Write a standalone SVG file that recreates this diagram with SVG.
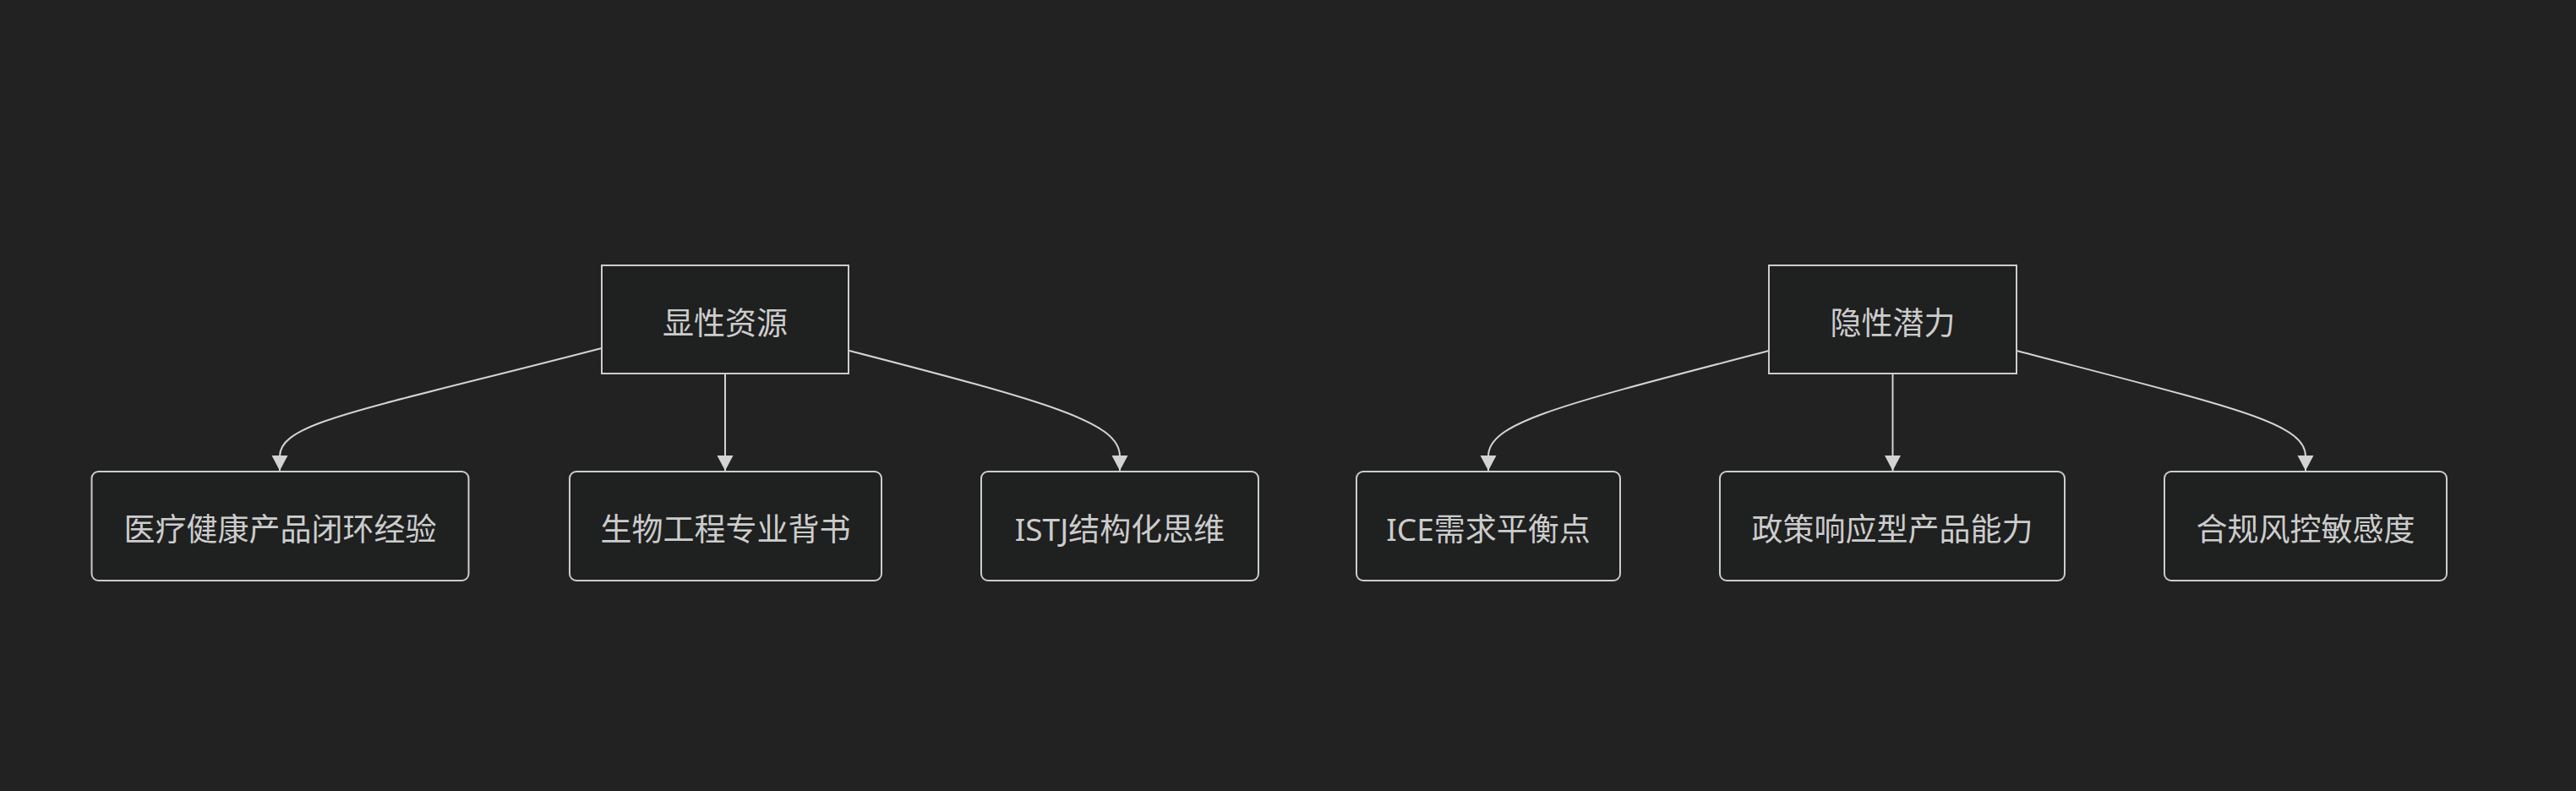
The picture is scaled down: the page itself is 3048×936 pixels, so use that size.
<svg xmlns="http://www.w3.org/2000/svg" width="3048" height="936" viewBox="0 0 3048 936">
<style>
.bg{fill:#222222}
.box{fill:#1f2020;stroke:#cccccc;stroke-width:2}
.lbl{fill:#cccccc;font-family:'Noto Sans','Noto Sans CJK SC',sans-serif;font-size:37px;text-anchor:middle}
.edge{fill:none;stroke:#d3d3d3;stroke-width:2}
</style>
<defs>
<marker id="arr" markerUnits="userSpaceOnUse" markerWidth="20" markerHeight="20" refX="18" refY="9.5" orient="auto">
<path d="M0,0 L18,9.5 L0,19 z" fill="#d3d3d3"/>
</marker>
</defs>
<rect class="bg" x="0" y="0" width="3048" height="936"/>
<g id="connectors">
<path class="edge" d="M712,412 C426,486 331,500 331,540 L331,557" marker-end="url(#arr)"/>
<path class="edge" d="M858,442 L858,557" marker-end="url(#arr)"/>
<path class="edge" d="M1005,415 C1245,477 1325,500 1325,540 L1325,557" marker-end="url(#arr)"/>
<path class="edge" d="M2093,415 C1844,480 1761,500 1761,540 L1761,557" marker-end="url(#arr)"/>
<path class="edge" d="M2239.5,442 L2239.5,557" marker-end="url(#arr)"/>
<path class="edge" d="M2386,415 C2642,482 2728,500 2728,540 L2728,557" marker-end="url(#arr)"/>
</g>
<g id="n_explicit">
<rect class="box" x="712" y="314" width="292" height="128"/>
<text class="lbl" x="858" y="396">显性资源</text>
</g>
<g id="n_medical">
<rect class="box" x="108.5" y="558" width="446" height="129" rx="8" ry="8"/>
<text class="lbl" x="331.5" y="640">医疗健康产品闭环经验</text>
</g>
<g id="n_bio">
<rect class="box" x="674" y="558" width="369" height="129" rx="8" ry="8"/>
<text class="lbl" x="858.5" y="640">生物工程专业背书</text>
</g>
<g id="n_istj">
<rect class="box" x="1161" y="558" width="328" height="129" rx="8" ry="8"/>
<text class="lbl" x="1325" y="640">ISTJ结构化思维</text>
</g>
<g id="n_implicit">
<rect class="box" x="2093" y="314" width="293" height="128"/>
<text class="lbl" x="2239.5" y="396">隐性潜力</text>
</g>
<g id="n_ice">
<rect class="box" x="1605" y="558" width="312" height="129" rx="8" ry="8"/>
<text class="lbl" x="1761" y="640">ICE需求平衡点</text>
</g>
<g id="n_policy">
<rect class="box" x="2035" y="558" width="408" height="129" rx="8" ry="8"/>
<text class="lbl" x="2239" y="640">政策响应型产品能力</text>
</g>
<g id="n_compliance">
<rect class="box" x="2561" y="558" width="334" height="129" rx="8" ry="8"/>
<text class="lbl" x="2728" y="640">合规风控敏感度</text>
</g>
</svg>
